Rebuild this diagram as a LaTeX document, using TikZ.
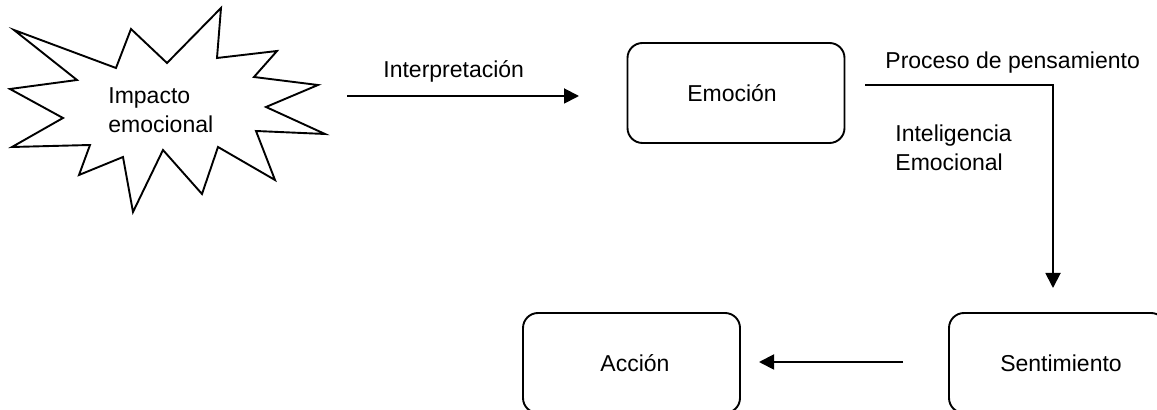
\documentclass[tikz,border=0pt]{standalone}
\usepackage{fontspec}
\setmainfont{Liberation Sans}
\usetikzlibrary{arrows.meta}
\begin{document}
\begin{tikzpicture}[x=0.5pt,y=-0.5pt,
  every node/.style={font=\fontsize{11.5}{14.7}\selectfont, inner sep=0pt},
  box/.style={draw, line width=0.95pt, rounded corners=7.5pt, minimum width=108.5pt, minimum height=50pt, text height=8.2pt, text depth=0pt},
  lbl/.style={anchor=base west},
  mlbl/.style={anchor=north west, align=left},
  conn/.style={line width=0.95pt, -{Triangle[length=7.5pt,width=7.5pt]}},
  burst/.style={draw, line width=0.95pt, line join=miter}]
\useasboundingbox (0,0) rectangle (1157,410);
\clip (0,0) rectangle (1157,410);
% starburst
\draw[burst] (14,30) -- (116,68) -- (131,29) -- (167,63) -- (221,8) -- (217,58) -- (277,51) -- (254,77) -- (318,85) -- (266,107) -- (325,134) -- (256,131) -- (275,180) -- (218,147) -- (202,194) -- (163,150) -- (133,212) -- (123,157) -- (79,175) -- (90,145) -- (12,147) -- (63,118) -- (10,89) -- (77,80) -- cycle;
\node[mlbl] (impacto) at (108,87) {Impacto\\emocional};
% boxes
\node[box] (emocion) at (736,93) {\hspace*{-4pt}Emoción};
\node[box] (accion) at (631.5,363) {\hspace*{3.5pt}Acción};
\node[box] (sentimiento) at (1057.5,363) {\hspace*{3.5pt}Sentimiento};
% labels
\node[lbl] (interp) at (383,78) {Interpretación};
\node[lbl] (proceso) at (885,69) {Proceso de pensamiento};
\node[mlbl] (intel) at (895,124) {Inteligencia\\Emocional};
% connector end points
\coordinate (a1s) at (347,96);
\coordinate (a1e) at (579,96);
\coordinate (a2s) at (865,85);
\coordinate (a2c) at (1053,85);
\coordinate (a2e) at (1053,288);
\coordinate (a3s) at (903,362);
\coordinate (a3e) at (759,362);
\draw[conn] (a1s) -- (a1e);
\draw[conn] (a2s) -- (a2c) -- (a2e);
\draw[conn] (a3s) -- (a3e);
\end{tikzpicture}
\end{document}
